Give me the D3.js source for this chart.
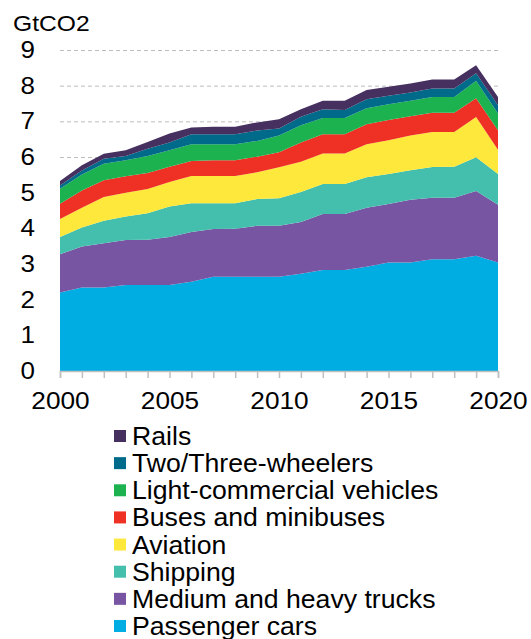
<!DOCTYPE html>
<html>
<head>
<meta charset="utf-8">
<script src="https://cdn.jsdelivr.net/npm/d3@7"></script>
<style>
  body { margin: 0; background: #fff; }
  svg { display: block; font-family: "Liberation Sans", Arial, sans-serif; }
</style>
</head>
<body>
<div id="chart"></div>
<script>
// Transport CO2 emissions by mode, GtCO2
const years = [2000,2001,2002,2003,2004,2005,2006,2007,2008,2009,2010,2011,2012,2013,2014,2015,2016,2017,2018,2019,2020];
const modes = ['Passenger cars','Medium and heavy trucks','Shipping','Aviation','Buses and minibuses','Light-commercial vehicles','Two/Three-wheelers','Rails'];
const colors = ['#00ade3','#7855a3','#45bfad','#fde83b','#ee3124','#1cb24f','#006a8b','#45305f'];

const passengerCars = [2.20,2.34,2.34,2.41,2.41,2.41,2.50,2.64,2.64,2.64,2.64,2.73,2.83,2.83,2.92,3.04,3.04,3.13,3.13,3.23,3.04];
const trucks        = [1.07,1.15,1.24,1.26,1.27,1.35,1.40,1.34,1.35,1.43,1.43,1.45,1.57,1.57,1.66,1.64,1.76,1.73,1.73,1.82,1.62];
const shipping      = [0.49,0.53,0.63,0.66,0.74,0.85,0.80,0.72,0.71,0.75,0.77,0.84,0.84,0.84,0.85,0.84,0.83,0.86,0.87,0.94,0.86];
const aviation      = [0.50,0.56,0.67,0.67,0.68,0.69,0.77,0.77,0.77,0.75,0.87,0.85,0.86,0.86,0.93,0.95,0.97,0.98,0.97,1.13,0.68];
const buses         = [0.43,0.48,0.47,0.46,0.45,0.43,0.42,0.44,0.44,0.44,0.42,0.54,0.54,0.54,0.56,0.57,0.54,0.54,0.54,0.53,0.55];
const lightComm     = [0.42,0.45,0.46,0.45,0.48,0.46,0.47,0.45,0.45,0.44,0.47,0.48,0.45,0.45,0.45,0.44,0.44,0.44,0.44,0.49,0.47];
const twoThree      = [0.09,0.11,0.14,0.12,0.20,0.22,0.28,0.28,0.28,0.29,0.20,0.24,0.25,0.23,0.25,0.24,0.23,0.24,0.24,0.21,0.23];
const rails         = [0.13,0.15,0.14,0.16,0.19,0.25,0.19,0.21,0.21,0.23,0.26,0.21,0.24,0.26,0.26,0.25,0.25,0.25,0.25,0.22,0.23];

const series = [passengerCars, trucks, shipping, aviation, buses, lightComm, twoThree, rails];
const yTicks = [0,1,2,3,4,5,6,7,8,9];

const W = 531, H = 639;
const rows = years.map((yr, i) => {
  const r = { year: yr };
  modes.forEach((m, k) => { r[m] = series[k][i]; });
  return r;
});

const svg = d3.select('#chart').append('svg').attr('width', W).attr('height', H);

const x = d3.scaleLinear().domain([2000, 2020]).range([60, 498]);
const y = d3.scaleLinear().domain([0, 9]).range([371, 50]);

// grid, behind the areas
svg.append('g')
  .attr('transform', 'translate(60,0)')
  .call(d3.axisLeft(y).tickValues(yTicks.slice(1)).tickSize(-438).tickFormat(''))
  .call(g => g.select('.domain').remove())
  .call(g => g.selectAll('line').attr('stroke', '#bdbdbd').attr('stroke-width', 1).attr('stroke-dasharray', '4,3'));

const stacked = d3.stack().keys(modes)(rows);
const area = d3.area()
  .x(d => x(d.data.year))
  .y0(d => y(d[0]))
  .y1(d => y(d[1]));

svg.append('g').selectAll('path').data(stacked).join('path')
  .attr('fill', (d, i) => colors[i])
  .attr('d', area);

// y axis labels
const sy = 1.13;
svg.append('g')
  .attr('transform', 'translate(60,0)')
  .call(d3.axisLeft(y).tickValues(yTicks).tickSize(0).tickFormat(d3.format('d')))
  .call(g => g.select('.domain').remove())
  .call(g => g.selectAll('text')
    .attr('x', -25 / sy)
    .attr('transform', `scale(${sy},1)`)
    .attr('font-size', 23).attr('fill', '#000'));

// x axis
const sx = 1.14;
svg.append('g')
  .attr('transform', 'translate(0,371)')
  .call(d3.axisBottom(x).tickValues(years).tickSize(7).tickPadding(15)
    .tickFormat(d => d % 5 === 0 ? String(d) : ''))
  .call(g => g.select('.domain').attr('stroke', '#bfbfbf').attr('stroke-width', 1.5))
  .call(g => g.selectAll('line').attr('stroke', '#bfbfbf').attr('stroke-width', 1.5))
  .call(g => g.selectAll('text')
    .attr('transform', `scale(${sx},1)`)
    .attr('font-size', 23).attr('fill', '#000'));

// unit label
svg.append('text')
  .attr('transform', 'translate(13,31) scale(1.12,1)')
  .attr('font-size', 22)
  .text('GtCO2');

// legend, top row is the top layer
const legend = svg.append('g').selectAll('g')
  .data(modes.map((m, i) => ({ name: m, color: colors[i] })).reverse())
  .join('g')
  .attr('transform', (d, i) => `translate(114,${436 + i * 27.14})`);

legend.append('rect')
  .attr('x', 0).attr('y', -6).attr('width', 12).attr('height', 12)
  .attr('fill', d => d.color);

legend.append('text')
  .attr('transform', 'translate(18,9) scale(1.025,1)')
  .attr('font-size', 26)
  .text(d => d.name);
</script>
</body>
</html>
